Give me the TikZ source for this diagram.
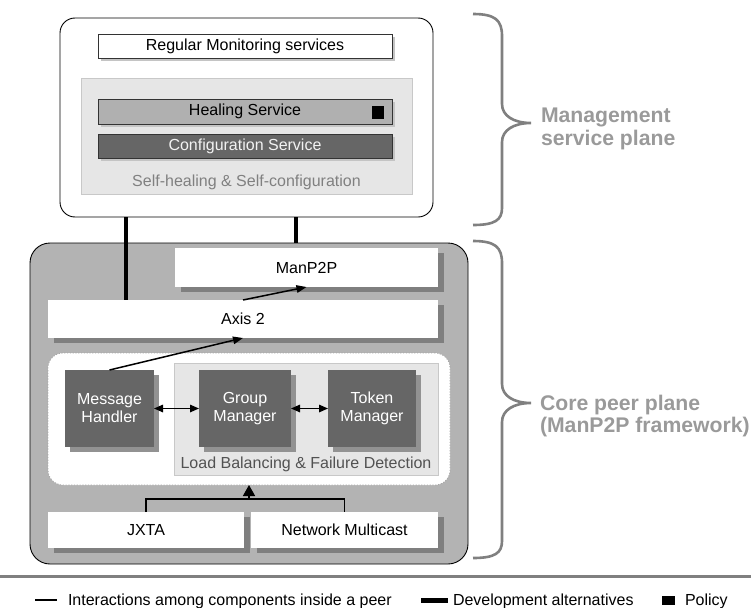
\documentclass[tikz,border=0pt]{standalone}
\usepackage{fontspec}
\setmainfont{Liberation Sans}
\usetikzlibrary{shadows,arrows.meta,calc}

\definecolor{panel}{HTML}{E6E6E6}
\definecolor{panelrule}{HTML}{C8C8C8}
\definecolor{midgray}{HTML}{B0B0B0}
\definecolor{darkbox}{HTML}{666666}
\definecolor{coregray}{HTML}{B3B3B3}
\definecolor{shade}{HTML}{7F7F7F}
\definecolor{lightshade}{HTML}{C4C4C4}
\definecolor{bracegray}{HTML}{808080}
\definecolor{planegray}{HTML}{9A9A9A}

\begin{document}
\begin{tikzpicture}[x=1pt,y=-1pt,
  font=\fontsize{16}{18}\selectfont,
  every node/.style={inner sep=0pt, outer sep=0pt},
  block/.style={anchor=north west, rectangle},
  topbox/.style={block, draw=black!80, line width=0.6pt,
    general shadow={fill=lightshade, shadow xshift=3pt, shadow yshift=-3pt}},
  corebox/.style={block, fill=white,
    general shadow={fill=shade, shadow xshift=6pt, shadow yshift=-5pt}},
  comp/.style={block, fill=darkbox, text=white, align=center,
    minimum width=#1, minimum height=77pt,
    general shadow={fill=shade!85, shadow xshift=5pt, shadow yshift=-5pt}},
  flow/.style={line width=1.5pt, -{Triangle[length=10pt,width=7.5pt]}},
  twoway/.style={line width=1.5pt, {Triangle[length=9pt,width=7.5pt]}-{Triangle[length=9pt,width=7.5pt]}},
  devline/.style={line width=4pt},
  bracestroke/.style={draw=bracegray, line width=2.6pt},
  planelabel/.style={anchor=west, align=left, text=planegray,
    font=\fontsize{21.2}{22.5}\selectfont\bfseries},
]
\useasboundingbox (0,0) rectangle (751,607);

% ---------------- management service plane ----------------
\node[block, draw=black, line width=0.9pt, fill=white, rounded corners=15pt,
      minimum width=373pt, minimum height=199pt] (mgmt) at (60,18) {};
\node[topbox, fill=white, minimum width=294pt, minimum height=24pt] (rms) at (98,34)
  {Regular Monitoring services};
\node[block, fill=panel, draw=panelrule, line width=0.6pt,
      minimum width=331pt, minimum height=116pt] (selfpanel) at (81,78) {};
\node[text=black!50] (selflabel) at (246.5,182) {Self-healing \& Self-configuration};
\node[topbox, fill=midgray, minimum width=294pt, minimum height=25pt] (heal) at (98,99)
  {Healing Service};
\node[block, fill=black, minimum width=12pt, minimum height=13pt] (policy) at (372,106) {};
\node[topbox, fill=darkbox, text=white!95!black, minimum width=294pt, minimum height=24pt]
  (conf) at (98,134) {Configuration Service};

% ---------------- core peer plane ----------------
\node[block, draw=black, line width=0.9pt, fill=coregray, rounded corners=20pt,
      minimum width=438pt, minimum height=321pt] (core) at (30,243) {};
\node[corebox, minimum width=263pt, minimum height=39pt] (manp2p) at (175,248) {ManP2P};
\node[corebox, minimum width=390pt, minimum height=38pt] (axis) at (48,300) {Axis 2};
\node[block, fill=white, draw=black!35, dash pattern=on 1.2pt off 1.6pt, line width=0.8pt,
      rounded corners=15pt, minimum width=402pt, minimum height=132pt] (inner) at (48,353) {};
\node[block, fill=panel, draw=panelrule, line width=0.6pt,
      minimum width=264pt, minimum height=112pt] (lbpanel) at (174,363) {};
\node[text=black!68] (lblabel) at (306,464) {Load Balancing \& Failure Detection};
\node[comp=89pt]  (msg)   at (65,370)  {Message\\Handler};
\node[comp=92pt]  (group) at (199,370) {Group\\Manager};
\node[comp=88pt]  (token) at (328,370) {Token\\Manager};
\node[corebox, minimum width=196pt, minimum height=36pt] (jxta) at (48,512) {JXTA};
\node[corebox, minimum width=187pt, minimum height=36pt] (netm) at (251,512) {Network Multicast};

% development alternatives linking the two planes
\coordinate (devA) at ($(mgmt.south west)+(66,0)$);
\coordinate (devB) at ($(mgmt.south west)+(236,0)$);
\draw[devline] (devA) -- (devA |- axis.north);
\draw[devline] (devB) -- (devB |- core.north);

% interactions inside the peer
\draw[flow] (msg.north) -- (axis.south);
\draw[flow] (axis.north) -- (manp2p.south);
\draw[twoway] (msg.east) -- (group.west);
\draw[twoway] (group.east) -- (token.west);
\coordinate (bus) at ($(jxta.north)+(0,-13)$);
\draw[line width=1.5pt] (jxta.north) -- (bus) -| (netm.north);
\draw[line width=1.5pt, -{Triangle[length=11pt,width=12pt]}] (inner.south |- bus) -- (inner.south);

% ---------------- braces and plane names ----------------
\draw[bracestroke] (473,14) .. controls (495,14) and (502,20) .. (502,36) -- (502,104)
  .. controls (502,116) and (514,123) .. (531,123)
  .. controls (514,123) and (502,130) .. (502,142) -- (502,208)
  .. controls (502,220) and (495,225) .. (473,225);
\node[planelabel] (mgmtname) at (541,129) {Management\\service plane};

\draw[bracestroke] (473,241) .. controls (495,241) and (502,247) .. (502,263) -- (502,384)
  .. controls (502,396) and (514,403) .. (531,403)
  .. controls (514,403) and (502,410) .. (502,422) -- (502,541)
  .. controls (502,553) and (495,558) .. (473,558);
\node[planelabel] (corename) at (540,416) {Core peer plane\\(ManP2P framework)};

% ---------------- legend ----------------
\draw[draw=bracegray, line width=3pt] (0,576) -- (751,576);
\draw[line width=1.5pt] (35,600) -- (57,600);
\node[anchor=base west] (leg1) at (68,605) {Interactions among components inside a peer};
\fill[black] (421,598) rectangle (448,603);
\node[anchor=base west] (leg2) at (453,605) {Development alternatives};
\fill[black] (662,596) rectangle (675,605);
\node[anchor=base west] (leg3) at (685,605) {Policy};
\end{tikzpicture}
\end{document}
